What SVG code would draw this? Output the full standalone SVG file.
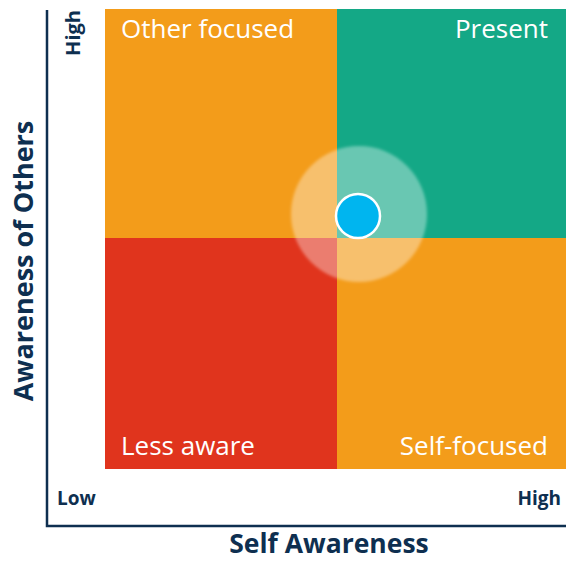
<svg xmlns="http://www.w3.org/2000/svg" width="566" height="561" viewBox="0 0 566 561">
<defs>
<style>
.q{font-family:"Open Sans","Noto Sans","Liberation Sans",sans-serif;font-size:26px;fill:#ffffff}
.ax{font-family:"Open Sans","Noto Sans","Liberation Sans",sans-serif;font-weight:bold;fill:#0e2f50}
.axis{stroke:#0e2f50;stroke-width:2.5;fill:none}
</style>
<filter id="soft" x="-20%" y="-20%" width="140%" height="140%"><feGaussianBlur stdDeviation="1.5"/></filter>
</defs>
<rect width="566" height="561" fill="#ffffff"/>
<g id="q-other-focused"><rect x="105" y="9" width="232" height="229" fill="#f39c1a"/><text class="q" x="121" y="38">Other focused</text></g>
<g id="q-present"><rect x="337" y="9" width="229" height="229" fill="#14a886"/><text class="q" x="548" y="38" text-anchor="end">Present</text></g>
<g id="q-less-aware"><rect x="105" y="238" width="232" height="231" fill="#e0341d"/><text class="q" x="121" y="455">Less aware</text></g>
<g id="q-self-focused"><rect x="337" y="238" width="229" height="231" fill="#f39c1a"/><text class="q" x="548" y="455" text-anchor="end">Self-focused</text></g>
<g id="connectors">
<polyline class="axis" points="47,10 47,526 566,526"/>
</g>
<g id="halo"><circle cx="359" cy="214" r="68" fill="#ffffff" fill-opacity="0.36" filter="url(#soft)"/></g>
<g id="marker"><circle cx="358" cy="216" r="22" fill="#00b5ef" stroke="#ffffff" stroke-width="2.5"/></g>
<g id="labels">
<text class="ax" font-size="20" x="0" y="0" text-anchor="middle" transform="translate(80,33) rotate(-90)">High</text>
<text class="ax" font-size="19" x="57" y="505">Low</text>
<text class="ax" font-size="19" x="561" y="505" text-anchor="end">High</text>
<text class="ax" font-size="27" x="0" y="0" text-anchor="middle" transform="translate(33,261) rotate(-90)">Awareness of Others</text>
<text class="ax" font-size="26.5" x="329" y="553" text-anchor="middle">Self Awareness</text>
</g>
</svg>
